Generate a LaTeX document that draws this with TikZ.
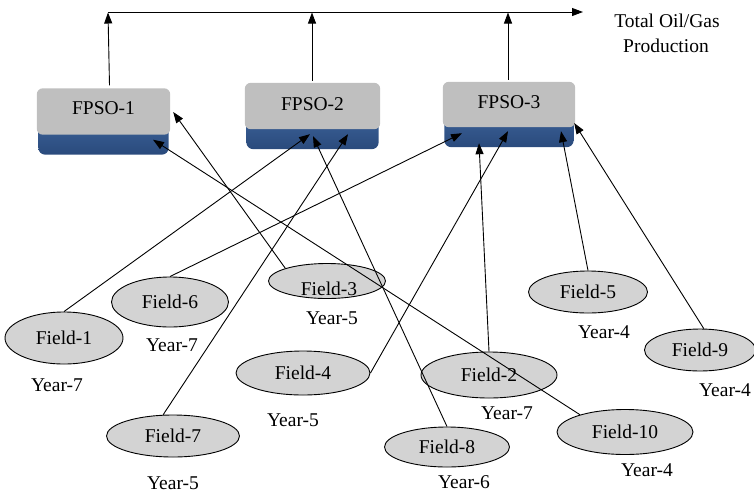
\documentclass[tikz,border=0pt]{standalone}
\usepackage{fontspec}
\setmainfont{Liberation Serif}
\usetikzlibrary{shapes.geometric,arrows.meta,calc}
\definecolor{fieldgray}{RGB}{211,211,211}
\definecolor{boxgray}{RGB}{191,191,191}
\definecolor{boxblue}{RGB}{58,96,150}
\definecolor{boxbluedark}{RGB}{42,74,124}
\newcommand\fpsopaint[1]{%
  \shade[rounded corners=7pt, top color=boxblue, bottom color=boxbluedark]
    ([xshift=1.5pt]#1.south west) rectangle ([xshift=-1.5pt,yshift=32pt]#1.south east);
  \fill[rounded corners=6pt, boxgray]
    ([yshift=20pt]#1.south west) rectangle (#1.north east);
}
\begin{document}
\begin{tikzpicture}[x=1pt,y=-1pt,
  font=\fontsize{19.5}{23}\selectfont,
  field/.style={ellipse, draw=black, line width=0.9pt, fill=fieldgray, inner sep=0pt},
  fpso/.style={rectangle, inner sep=0pt, minimum width=133pt, minimum height=66pt},
  conn/.style={-{Triangle[length=11pt,width=8pt]}, line width=0.9pt},
  lbl/.style={inner sep=0pt}]
\useasboundingbox (0,0) rectangle (754,493);

% FPSO units
\node[fpso] (fp1) at (103.5,121.5) {};
\node[fpso, minimum width=135pt] (fp2) at (312.5,116) {};
\node[fpso, minimum width=132pt, minimum height=65pt] (fp3) at (509,114.5) {};
\fpsopaint{fp1}
\fpsopaint{fp2}
\fpsopaint{fp3}
\node[lbl] (fp1t) at ([yshift=13.5pt]fp1.center) {FPSO-1};
\node[lbl] (fp2t) at ([yshift=12pt]fp2.center) {FPSO-2};
\node[lbl] (fp3t) at ([yshift=12.5pt]fp3.center) {FPSO-3};

% production line
\coordinate (t1) at (108,12);
\coordinate (t2) at (312,12);
\coordinate (t3) at (508,12);
\coordinate (tend) at (583,12);
\draw[conn] (t1) -- (tend);
\node[lbl] (total) at (667,21) {Total Oil/Gas};
\node[lbl] (prod) at (666,46) {Production};
\draw[conn] ([xshift=6pt,yshift=3pt]fp1.north) -- ([yshift=-0.5pt]t1);
\draw[conn] ([xshift=-0.5pt,yshift=2pt]fp2.north) -- ([yshift=-0.5pt]t2);
\draw[conn] ([xshift=-1pt,yshift=2pt]fp3.north) -- ([yshift=-0.5pt]t3);

% fields
\node[field, minimum width=118pt, minimum height=52pt] (f1) at (64,338) {Field-1};
\node[field, minimum width=117pt, minimum height=50pt] (f6) at (170,302) {Field-6};
\node[field, minimum width=117pt, minimum height=35pt] (f3) at (327,281) {};
\node[lbl] (f3t) at (329,289) {Field-3};
\node[field, minimum width=134pt, minimum height=44pt] (f4) at (303,373) {Field-4};
\node[field, minimum width=133pt, minimum height=42pt] (f7) at (173,436) {Field-7};
\node[field, minimum width=136pt, minimum height=46pt] (f2) at (489,375) {Field-2};
\node[field, minimum width=125pt, minimum height=40pt] (f8) at (447,447) {Field-8};
\node[field, minimum width=136pt, minimum height=45pt] (f10) at (625,432) {Field-10};
\node[field, minimum width=119pt, minimum height=42pt] (f5) at (588,292) {Field-5};
\node[field, minimum width=111pt, minimum height=42pt] (f9) at (700,350) {Field-9};

% years
\node[lbl] (y1) at (57,385) {Year-7};
\node[lbl] (y6) at (172,345) {Year-7};
\node[lbl] (y3) at (332,318) {Year-5};
\node[lbl] (y4) at (293,420) {Year-5};
\node[lbl] (y7) at (173,483) {Year-5};
\node[lbl] (y2) at (507,413) {Year-7};
\node[lbl] (y8) at (464,482) {Year-6};
\node[lbl] (y10) at (647,470) {Year-4};
\node[lbl] (y5) at (604,332) {Year-4};
\node[lbl] (y9) at (725,390) {Year-4};

% connectors
\draw[conn] (f1.north) -- ([xshift=-2.5pt,yshift=15pt]fp2.south);
\draw[conn] (f6.north) -- ([xshift=-47pt,yshift=14pt]fp3.south);
\draw[conn] (f3.north west) -- ([xshift=3pt,yshift=9.5pt]fp1.east);
\draw[conn] (f7.115) -- ([xshift=35.5pt,yshift=15pt]fp2.south);
\draw[conn] (f8.north) -- ([xshift=0.5pt,yshift=13pt]fp2.south);
\draw[conn] (f10.159) -- ([xshift=49.5pt,yshift=15pt]fp1.south);
\draw[conn] (f4.east) -- ([xshift=-1pt,yshift=16pt]fp3.south);
\draw[conn] (f2.north) -- ([xshift=-30pt,yshift=4pt]fp3.south);
\draw[conn] (f5.north) -- ([xshift=52pt,yshift=16pt]fp3.south);
\draw[conn] (f9.80) -- ([xshift=-1pt,yshift=-8.5pt]fp3.east);
\end{tikzpicture}
\end{document}
